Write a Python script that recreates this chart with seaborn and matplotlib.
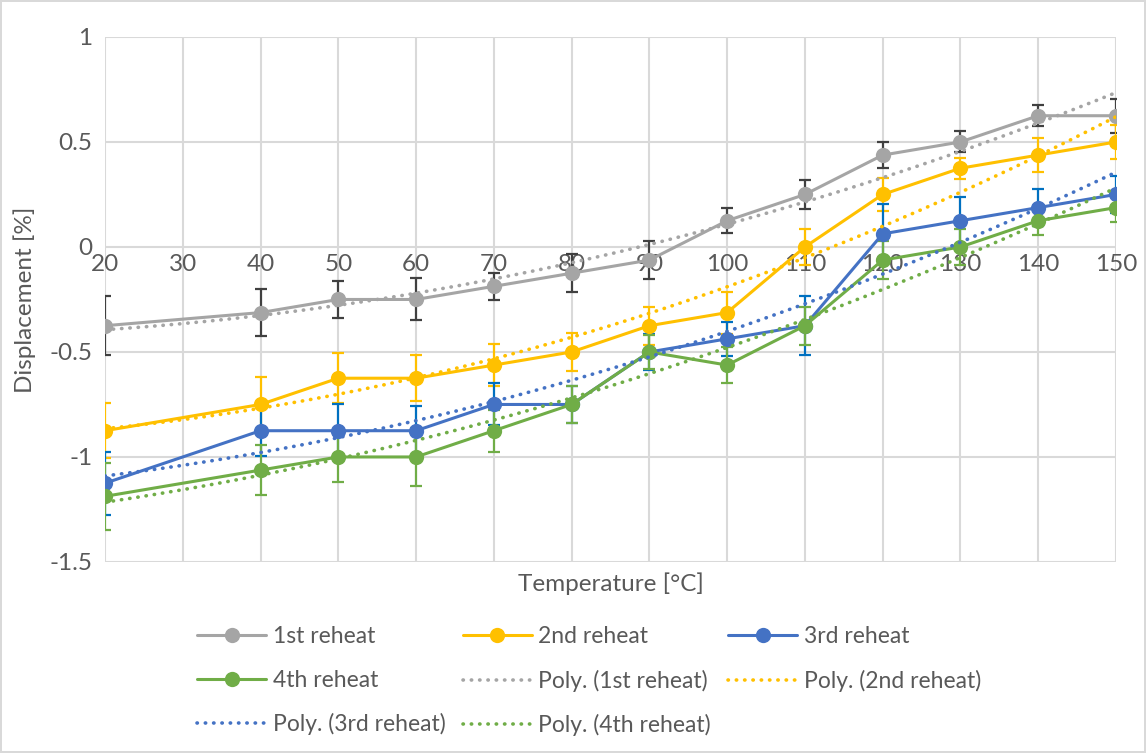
import numpy as np
import pandas as pd
import seaborn as sns
import matplotlib.pyplot as plt

temps = [20, 40, 50, 60, 70, 80, 90, 100, 110, 120, 130, 140, 150]

reheat_1 = [-0.375, -0.3125, -0.25, -0.25, -0.1875, -0.125, -0.0625, 0.125, 0.25, 0.4375, 0.5, 0.625, 0.625]
reheat_2 = [-0.875, -0.75, -0.625, -0.625, -0.5625, -0.5, -0.375, -0.3125, 0.0, 0.25, 0.375, 0.4375, 0.5]
reheat_3 = [-1.125, -0.875, -0.875, -0.875, -0.75, -0.75, -0.5, -0.4375, -0.375, 0.0625, 0.125, 0.1875, 0.25]
reheat_4 = [-1.1875, -1.0625, -1.0, -1.0, -0.875, -0.75, -0.5, -0.5625, -0.375, -0.0625, 0.0, 0.125, 0.1875]

err_1 = [0.14, 0.11, 0.09, 0.10, 0.065, 0.09, 0.09, 0.06, 0.07, 0.06, 0.05, 0.05, 0.08]
err_2 = [0.13, 0.13, 0.12, 0.11, 0.10, 0.09, 0.09, 0.10, 0.085, 0.08, 0.05, 0.08, 0.08]
err_3 = [0.15, 0.12, 0.125, 0.12, 0.10, 0.09, 0.085, 0.08, 0.14, 0.14, 0.115, 0.09, 0.09]
err_4 = [0.16, 0.12, 0.12, 0.14, 0.10, 0.09, 0.08, 0.085, 0.09, 0.09, 0.085, 0.07, 0.07]

names = ["1st reheat", "2nd reheat", "3rd reheat", "4th reheat"]
series = [reheat_1, reheat_2, reheat_3, reheat_4]
errors = [err_1, err_2, err_3, err_4]
colors = ["#A5A5A5", "#FFC000", "#4472C4", "#70AD47"]
err_colors = ["#404040", "#FFC000", "#0070C0", "#70AD47"]

sns.set_theme(style="whitegrid")
plt.rcParams["font.family"] = ["Lato", "DejaVu Sans"]

fig, ax = plt.subplots(figsize=(11.46, 7.53), dpi=100)
fig.subplots_adjust(left=0.0916, right=0.9738, top=0.9509, bottom=0.2537)
fig.patch.set_edgecolor("#D9D9D9")
fig.patch.set_linewidth(1.5)

x = np.array(temps)
xs = np.linspace(20, 150, 200)
line_handles = []
trend_handles = []
for name, ys, es, c, ec in zip(names, series, errors, colors, err_colors):
    ax.errorbar(x, ys, yerr=es, fmt="none", ecolor=ec, elinewidth=1.6,
                capsize=4.5, capthick=1.6, zorder=2)
    df = pd.DataFrame({"T": x, "D": ys})
    sns.lineplot(data=df, x="T", y="D", ax=ax, color=c, lw=2.2, marker="o",
                 markersize=11, markeredgewidth=0, zorder=3)
    line_handles.append(ax.lines[-1])
    # 2nd order polynomial trendline, as Excel computes it
    coef = np.polyfit(x, ys, 2)
    tdf = pd.DataFrame({"T": xs, "D": np.polyval(coef, xs)})
    sns.lineplot(data=tdf, x="T", y="D", ax=ax, color=c, lw=2.6, zorder=4)
    tl = ax.lines[-1]
    tl.set_linestyle((0, (0.1, 2.2)))
    tl.set_dash_capstyle("round")
    trend_handles.append(tl)

ax.set_xlim(20, 150)
ax.set_ylim(-1.5, 1)
ax.set_xticks(range(20, 151, 10))
ax.set_yticks([-1.5, -1, -0.5, 0, 0.5, 1])
ax.set_yticklabels(["-1.5", "-1", "-0.5", "0", "0.5", "1"])
ax.grid(True, color="#D9D9D9", lw=1.5)
for s in ax.spines.values():
    s.set_visible(False)
ax.spines["bottom"].set_position(("data", 0))
ax.tick_params(axis="both", length=0, labelsize=17.5, colors="#595959")
ax.tick_params(axis="x", pad=5)
ax.tick_params(axis="y", pad=9)

ax.set_xlabel("Temperature [°C]", fontsize=17.5, color="#595959")
ax.xaxis.set_label_coords(0.5, -0.02)
ax.set_ylabel("Displacement [%]", fontsize=17.5, color="#595959", labelpad=10)

labels = names + ["Poly. (" + n + ")" for n in names]
handles = line_handles + trend_handles
order = [0, 3, 6, 1, 4, 7, 2, 5]
ax.legend([handles[i] for i in order], [labels[i] for i in order],
          loc="upper center", bbox_to_anchor=(0.479, -0.083), ncol=3,
          frameon=False, fontsize=16.5, labelcolor="#595959", handlelength=3.0,
          handletextpad=0.3, columnspacing=0.75, labelspacing=0.98)

plt.savefig("out.png", dpi=100, edgecolor=fig.get_edgecolor())
